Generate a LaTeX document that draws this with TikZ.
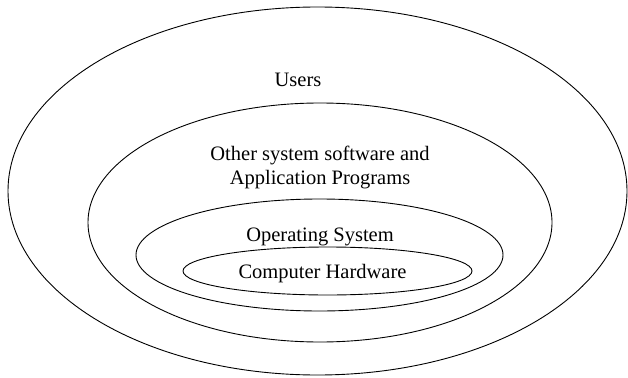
\documentclass[tikz,border=0pt]{standalone}
\usepackage{fontspec}
\setmainfont{Liberation Serif}
\begin{document}
\begin{tikzpicture}[x=1pt,y=-1pt,
  ring/.style={draw=black,line width=0.9pt},
  lbl/.style={font=\fontsize{20.5}{24}\selectfont,inner sep=0pt,anchor=base,align=center}]
\useasboundingbox (0,0) rectangle (628,377);
\draw[ring] (317.5,191) ellipse [x radius=309.5, y radius=184] coordinate (users);
\draw[ring] (320,222.5) ellipse [x radius=232, y radius=119.5] coordinate (apps);
\draw[ring] (319.5,255) ellipse [x radius=183.5, y radius=56] coordinate (os);
\draw[ring] (327.5,271) ellipse [x radius=144.5, y radius=24] coordinate (hw);
\node[lbl] (tusers) at (298,87) {Users};
\node[lbl] (tapps) at (320,184) {Other system software and\\Application Programs};
\node[lbl] (tos) at (320,241) {Operating System};
\node[lbl] (thw) at (322.5,278) {Computer Hardware};
\end{tikzpicture}
\end{document}
